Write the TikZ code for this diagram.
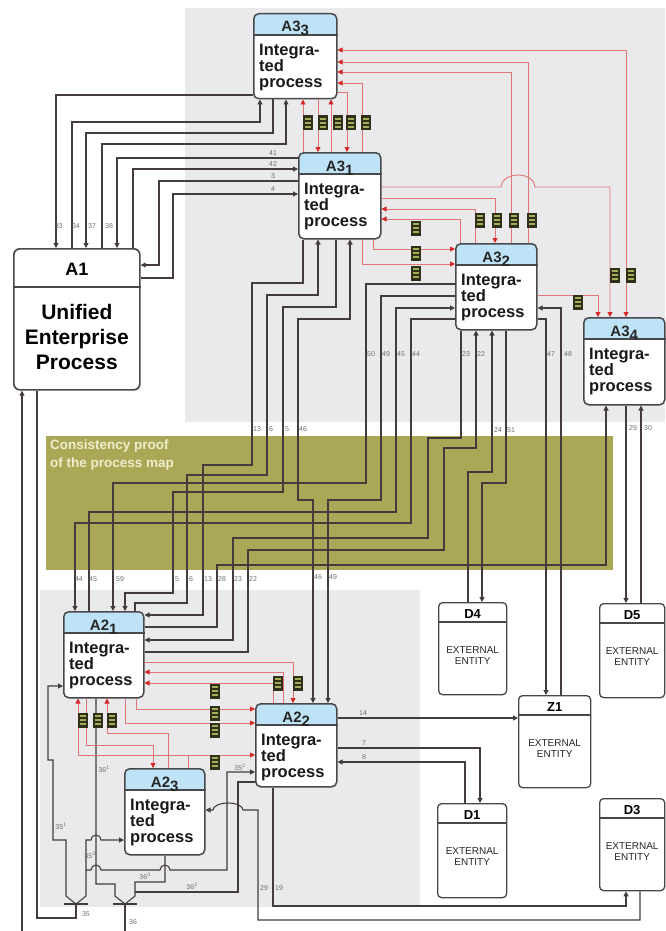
\documentclass[tikz,border=0pt]{standalone}
\usepackage{fontspec}
\setmainfont{Liberation Sans}
\usetikzlibrary{arrows.meta}
\definecolor{bggray}{RGB}{234,234,236}
\definecolor{bandolive}{RGB}{170,168,86}
\definecolor{hdrblue}{RGB}{190,226,246}
\definecolor{boxline}{RGB}{72,72,76}
\definecolor{blk}{RGB}{68,60,60}
\definecolor{redl}{RGB}{226,116,116}
\definecolor{redh}{RGB}{214,40,40}
\definecolor{lblgray}{RGB}{110,110,110}
\definecolor{tagbg}{RGB}{48,48,24}
\definecolor{tagfg}{RGB}{165,172,90}
\definecolor{bandtxt}{RGB}{238,238,205}
\tikzset{
 procbox/.style={draw=boxline, line width=1.5pt, rounded corners=5pt, fill=white, inner sep=0pt,
   path picture={\fill[hdrblue] (path picture bounding box.north west) rectangle ([yshift=-22pt]path picture bounding box.north east);}},
 entbox/.style={draw=boxline, line width=1.3pt, rounded corners=4pt, fill=white, inner sep=0pt},
 hdrtxt/.style={font=\bfseries\fontsize{15}{15}\selectfont, text=black!85, inner sep=0pt},
 bodytxt/.style={font=\bfseries\fontsize{16.5}{16}\selectfont, align=left, inner sep=0pt, text=black!90},
 enttxt/.style={font=\fontsize{10}{11}\selectfont, align=center, inner sep=0pt, text=black!85},
 bl/.style={draw=blk, line width=1.1pt},
 rl/.style={draw=redl, line width=0.9pt},
 barr/.style={arrows={-Triangle[length=5pt,width=5pt,color=blk]}},
 barr2/.style={arrows={Triangle[length=5pt,width=5pt,color=blk]-Triangle[length=5pt,width=5pt,color=blk]}},
 rarr/.style={arrows={-Triangle[length=5pt,width=5pt,color=redh]}},
 rarr2/.style={arrows={Triangle[length=5pt,width=5pt,color=redh]-Triangle[length=5pt,width=5pt,color=redh]}},
 lbl/.style={font=\fontsize{7}{7}\selectfont, text=lblgray, inner sep=0pt},
 tag/.style={fill=tagbg, minimum width=10pt, minimum height=15pt, inner sep=0pt,
   path picture={\foreach \yy in {-5,-1,3} \fill[tagfg] ([xshift=-3pt,yshift=\yy pt]path picture bounding box.center) rectangle ++(6pt,1.6pt);}},
}
\newcommand{\procnode}[6]{%
 \node[procbox, minimum width=#4pt, minimum height=#5pt, anchor=north west] (#1) at (#2,#3) {};
 \draw[draw=boxline, line width=1.3pt] ([yshift=-22pt]#1.north west) -- ([yshift=-22pt]#1.north east);
 \node[hdrtxt, anchor=base] (#1t) at ([yshift=-19pt]#1.north) {#6};
 \node[bodytxt, anchor=north west] (#1b) at ([xshift=6pt,yshift=-31pt]#1.north west) {Integra-\\ted\\process};
}
\newcommand{\entnode}[6]{%
 \node[entbox, minimum width=#4pt, minimum height=#5pt, anchor=north west] (#1) at (#2,#3) {};
 \draw[draw=boxline, line width=1.2pt] ([yshift=-20pt]#1.north west) -- ([yshift=-20pt]#1.north east);
 \node[font=\bfseries\fontsize{13}{13}\selectfont, inner sep=0pt, anchor=base] (#1t) at ([yshift=-16pt]#1.north) {#6};
 \node[enttxt] (#1b) at ([yshift=-54pt]#1.north) {EXTERNAL\\ENTITY};
}
\begin{document}
\begin{tikzpicture}[x=1pt,y=-1pt]
\useasboundingbox (0,0) rectangle (665,931);
\fill[white] (0,0) rectangle (665,931);
\fill[bggray] (185,8) rectangle (665,422);
\fill[bggray] (40,590) rectangle (420,907);
\fill[bandolive] (46,436) rectangle (613,570);
\node[font=\bfseries\fontsize{13.5}{18}\selectfont, text=bandtxt, align=left, anchor=north west, inner sep=0pt] (band) at (50,440) {Consistency proof\\of the process map};

% process boxes
\procnode{A33}{253}{13}{83}{85}{A3\raisebox{-4pt}{3}}
\procnode{A31}{298}{152}{82}{86}{A3\raisebox{-4pt}{1}}
\procnode{A32}{455}{243}{81}{86}{A3\raisebox{-4pt}{2}}
\procnode{A34}{583}{317}{81}{87}{A3\raisebox{-4pt}{4}}
\procnode{A21}{63}{611}{80}{86}{A2\raisebox{-4pt}{1}}
\procnode{A22}{255}{703}{81}{83}{A2\raisebox{-4pt}{2}}
\procnode{A23}{124}{768}{80}{86}{A2\raisebox{-4pt}{3}}

% A1
\node[entbox, line width=1.7pt, rounded corners=6pt, minimum width=126pt, minimum height=141pt, anchor=north west] (A1) at (13,248) {};
\draw[draw=boxline, line width=1.4pt] ([yshift=-39pt]A1.north west) -- ([yshift=-39pt]A1.north east);
\node[font=\bfseries\fontsize{18}{18}\selectfont, inner sep=0pt, anchor=base] (A1t) at ([yshift=-27pt]A1.north) {A1};
\node[font=\bfseries\fontsize{21}{25}\selectfont, align=center, inner sep=0pt, anchor=north] (A1b) at ([yshift=-56pt]A1.north) {Unified\\Enterprise\\Process};

% external entities
\entnode{D4}{438}{602}{68}{92}{D4}
\entnode{D5}{599}{603}{65}{94}{D5}
\entnode{Z1}{518}{695}{72}{92}{Z1}
\entnode{D1}{437}{803}{69}{94}{D1}
\entnode{D3}{599}{798}{65}{92}{D3}

% ---- black connectors: A1 with A33 / A31
\draw[bl,barr] (A33.west |- 0,95) -| (A1.north -| 56,0);
\draw[bl,barr] (A1.north -| 72,0) |- (260,122) -- (A33.south -| 260,0);
\draw[bl,barr] (A33.south -| 273,0) |- (86,133) -- (A1.north -| 86,0);
\draw[bl,barr] (A1.north -| 102,0) |- (286,144) -- (A33.south -| 286,0);
\draw[bl,barr] (A31.west |- 0,158) -| (A1.north -| 117,0);
\draw[bl,barr] (A1.north -| 133,0) |- (A31.west |- 0,169);
\draw[bl,barr] (A31.west |- 0,181) -| (159,265) -- (A1.east |- 0,265);
\draw[bl,barr] (A1.east |- 0,278) -| (173,194) -- (A31.west |- 0,194);

% A31 bottom
\draw[bl,barr] (A31.south -| 303,0) |- (252,283) |- (203,465) |- (A21.east |- 0,615);
\draw[bl,barr] (A21.north -| 135,0) |- (187,603) |- (267,475) |- (318,295) -- (A31.south -| 318,0);
\draw[bl,barr] (A31.south -| 336,0) |- (283,307) |- (173,492) |- (125,593) -- (A21.north -| 125,0);
\draw[bl,barr2] (A22.north -| 313,0) |- (298,500) |- (350,319) -- (A31.south -| 350,0);

% A32 left
\draw[bl,barr] (A32.west |- 0,284) -| (366,483) -| (A21.north -| 113,0);
\draw[bl,barr] (A32.west |- 0,296) -| (381,500) -| (A22.north -| 328,0);
\draw[bl,barr] (A21.north -| 89,0) |- (396,512) |- (A32.west |- 0,308);
\draw[bl,barr] (A32.west |- 0,319) -| (411,523) -| (A21.north -| 75,0);

% A32 bottom
\draw[bl,barr] (A32.south -| 461,0) |- (428,438) |- (233,538) |- (A21.east |- 0,640);
\draw[bl,barr] (A21.east |- 0,652) -| (248,550) -| (444,448) -| (A32.south -| 476,0);
\draw[bl,barr] (D4.north -| 468,0) |- (492,472) -- (A32.south -| 492,0);
\draw[bl,barr] (A32.south -| 506,0) |- (482,483) -- (D4.north -| 482,0);

% A32 right
\draw[bl,barr] (A32.east |- 0,319) -| (Z1.north -| 546,0);
\draw[bl,barr] (Z1.north -| 561,0) |- (A32.east |- 0,308);

% A34
\draw[bl,barr] (A21.east |- 0,627) -| (217,565) -| (A34.south -| 606,0);
\draw[bl,barr] (A34.south -| 626,0) -- (D5.north -| 626,0);
\draw[bl,barr] (D5.north -| 641,0) -- (A34.south -| 641,0);

% A22 right / bottom
\draw[bl,barr] (A22.east |- 0,718) -- (Z1.west |- 0,718);
\draw[bl,barr] (A22.east |- 0,748) -| (D1.north -| 480,0);
\draw[bl,barr] (D1.north -| 465,0) |- (A22.east |- 0,762);
\draw[bl,barr] (A22.south -| 273,0) |- (626,906) -- (D3.south -| 626,0);
\draw[bl,barr] (D3.south -| 640,0) |- (258,920) -- (258,810) -- (243,810) arc[start angle=0,end angle=180,x radius=15pt,y radius=7pt] -- (A23.east |- 0,810);

% junctions 35 / 36
\coordinate (J35) at (76,904);
\coordinate (J36) at (125,904);
\coordinate (B35) at (86,870);
\coordinate (B36) at (135,892);
\draw[bl] (64,904) -- (88,904);
\draw[bl] (113,904) -- (137,904);
\draw[bl] (A1.south -| 37,0) |- (76,918) -- (J35);
\draw[bl,barr] (J35) -- (66,896) |- (53,840) |- (48,760) |- (A21.west |- 0,686);
\draw[bl,barr] (J35) -- (86,896) -- (86,840) -- (91,840) arc[start angle=180,end angle=0,radius=5pt] -- (A23.west |- 0,840);
\draw[bl,barr] (B35) -- (91,870) arc[start angle=180,end angle=0,radius=5pt] -- (160,870) arc[start angle=180,end angle=0,radius=5pt] -- (227,870) |- (A22.west |- 0,772);
\draw[bl] (A21.south -| 96,0) |- (115,884) -- (115,896) -- (J36);
\draw[bl] (A23.south -| 165,0) |- (135,882) -- (135,896) -- (J36);
\draw[bl] (A22.west |- 0,782) -| (238,892) -- (B36);
\draw[bl] (J36) -- (125,931);
\draw[bl,barr] (22,931) -- (A1.south -| 22,0);

% ---- red connectors, upper
\draw[rl,rarr] (A31.north -| 303,0) -- (A33.south -| 303,0);
\draw[rl,rarr] (A33.south -| 318,0) -- (A31.north -| 318,0);
\draw[rl,rarr] (A31.north -| 331,0) -- (A33.south -| 331,0);
\draw[rl,rarr] (A33.east |- 0,92) -| (A31.north -| 347,0);
\draw[rl,rarr] (A31.north -| 362,0) |- (A33.east |- 0,83);
\draw[rl,rarr] (A32.north -| 511,0) |- (A33.east |- 0,72);
\draw[rl,rarr] (A32.north -| 528,0) |- (A33.east |- 0,62);
\draw[rl,rarr2] (A34.north -| 626,0) |- (A33.east |- 0,50);
\draw[rl,rarr] (A31.east |- 0,187) -- (501,187) arc[start angle=180,end angle=0,x radius=17pt,y radius=12pt] -| (A34.north -| 610,0);
\draw[rl,rarr] (A31.east |- 0,198) -| (A32.north -| 495,0);
\draw[rl,rarr] (A32.north -| 475,0) |- (A31.east |- 0,209);
\draw[rl,rarr] (A32.north -| 460,0) |- (A31.east |- 0,219);
\draw[rl,rarr] (A31.south -| 373,0) |- (A32.west |- 0,249);
\draw[rl,rarr] (A31.south -| 362,0) |- (A32.west |- 0,264);
\draw[rl,rarr] (A32.east |- 0,295) -| (A34.north -| 598,0);

% ---- red connectors, lower
\draw[rl,rarr] (A21.east |- 0,662) -| (A22.north -| 293,0);
\draw[rl,rarr] (A22.north -| 283,0) |- (A21.east |- 0,672);
\draw[rl,rarr] (A22.north -| 273,0) |- (A21.east |- 0,683);
\draw[rl,rarr] (A21.south -| 136,0) |- (A22.west |- 0,709);
\draw[rl,rarr] (A21.south -| 125,0) |- (A22.west |- 0,723);
\draw[rl,rarr] (A21.south -| 86,0) |- (153,745) -- (A23.north -| 153,0);
\draw[rl,rarr] (A23.north -| 168,0) |- (107,733) -- (A21.south -| 107,0);
\coordinate (B23) at (188,755);
\draw[rl,rarr] (A23.north -| 188,0) -- (B23) -| (A21.south -| 78,0);
\draw[rl,rarr] (B23) -- (A22.west |- 0,755);

% ---- tags
\node[tag] (g1) at (308,123) {};
\node[tag] (g2) at (323,123) {};
\node[tag] (g3) at (338,123) {};
\node[tag] (g4) at (351,123) {};
\node[tag] (g5) at (366,123) {};
\node[tag] (g6) at (416,228) {};
\node[tag] (g7) at (416,253) {};
\node[tag] (g8) at (416,273) {};
\node[tag] (g9) at (480,220) {};
\node[tag] (g10) at (497,220) {};
\node[tag] (g11) at (514,220) {};
\node[tag] (g12) at (532,220) {};
\node[tag] (g13) at (578,302) {};
\node[tag] (g14) at (615,275) {};
\node[tag] (g15) at (631,275) {};
\node[tag] (g16) at (278,683) {};
\node[tag] (g17) at (298,683) {};
\node[tag] (g18) at (215,691) {};
\node[tag] (g19) at (215,713) {};
\node[tag] (g20) at (215,730) {};
\node[tag] (g21) at (215,762) {};
\node[tag] (g22) at (83,720) {};
\node[tag] (g23) at (98,720) {};
\node[tag] (g24) at (112,720) {};

% ---- labels
\node[lbl] (t33) at (59,226) {33};
\node[lbl] (t34) at (76,226) {34};
\node[lbl] (t37) at (92,226) {37};
\node[lbl] (t38) at (109,226) {38};
\node[lbl, anchor=south] (t41) at (273,156) {41};
\node[lbl, anchor=south] (t42) at (273,167) {42};
\node[lbl, anchor=south] (t3) at (273,179) {3};
\node[lbl, anchor=south] (t4) at (273,192) {4};
\node[lbl] (t13a) at (257,429) {13};
\node[lbl] (t6a) at (271,429) {6};
\node[lbl] (t5a) at (287,429) {5};
\node[lbl] (t46a) at (303,429) {46};
\node[lbl] (t50) at (371,354) {50};
\node[lbl] (t49a) at (386,354) {49};
\node[lbl] (t45a) at (401,354) {45};
\node[lbl] (t44a) at (416,354) {44};
\node[lbl] (t23a) at (466,354) {23};
\node[lbl] (t22a) at (481,354) {22};
\node[lbl] (t47) at (551,354) {47};
\node[lbl] (t48) at (568,354) {48};
\node[lbl] (t24) at (498,430) {24};
\node[lbl] (t51) at (511,430) {51};
\node[lbl] (t29a) at (633,428) {29};
\node[lbl] (t30) at (648,428) {30};
\node[lbl] (t44b) at (79,579) {44};
\node[lbl] (t45b) at (93,579) {45};
\node[lbl] (t59) at (120,579) {59};
\node[lbl] (t5b) at (177,579) {5};
\node[lbl] (t6b) at (191,579) {6};
\node[lbl] (t13b) at (208,579) {13};
\node[lbl] (t28) at (222,579) {28};
\node[lbl] (t23b) at (238,579) {23};
\node[lbl] (t22b) at (253,579) {22};
\node[lbl] (t46b) at (318,577) {46};
\node[lbl] (t49b) at (333,577) {49};
\node[lbl, anchor=south] (t14) at (363,716) {14};
\node[lbl, anchor=south] (t7) at (364,746) {7};
\node[lbl, anchor=south] (t8) at (364,760) {8};
\node[lbl] (t361) at (104,769) {36\textsuperscript{1}};
\node[lbl] (t351) at (61,826) {35\textsuperscript{1}};
\node[lbl] (t353) at (90,855) {35\textsuperscript{3}};
\node[lbl] (t352) at (240,767) {35\textsuperscript{2}};
\node[lbl] (t363) at (145,876) {36\textsuperscript{3}};
\node[lbl] (t362) at (192,886) {36\textsuperscript{2}};
\node[lbl] (t29b) at (264,888) {29};
\node[lbl] (t19) at (279,888) {19};
\node[lbl] (t35) at (86,914) {35};
\node[lbl] (t36) at (133,922) {36};
\end{tikzpicture}
\end{document}
